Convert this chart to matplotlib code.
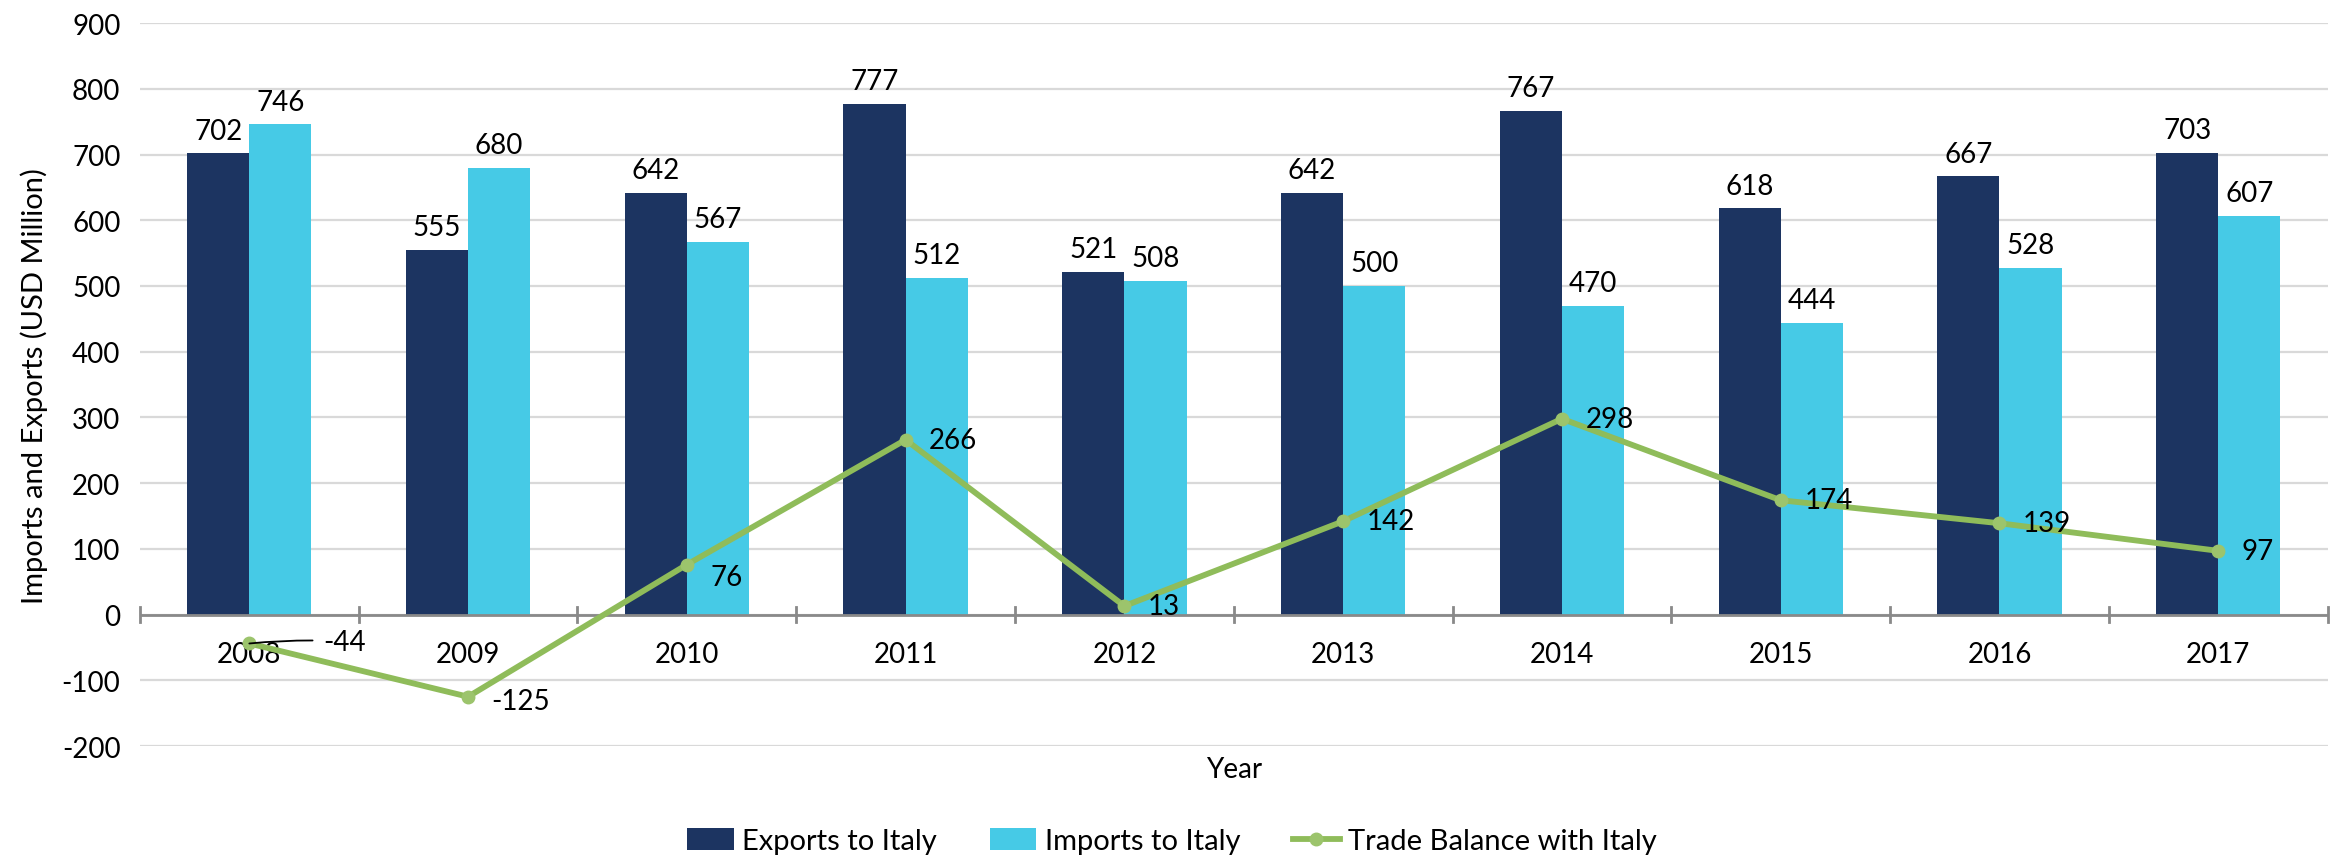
import matplotlib.pyplot as plt
import numpy as np

years = ['2008', '2009', '2010', '2011', '2012', '2013', '2014', '2015', '2016', '2017']
exports = [702, 555, 642, 777, 521, 642, 767, 618, 667, 703]
imports = [746, 680, 567, 512, 508, 500, 470, 444, 528, 607]
balance = [-44, -125, 76, 266, 13, 142, 298, 174, 139, 97]

navy = '#1C3461'
sky = '#46CAE6'
green = '#8FBC5A'

plt.rcParams['font.family'] = ['Lato', 'DejaVu Sans']
plt.rcParams['axes.unicode_minus'] = False

fig = plt.figure(figsize=(23.44, 8.62), dpi=100)
ax = fig.add_axes([0.0597, 0.1334, 0.9333, 0.8386])

x = np.arange(len(years))
w = 0.284
b1 = ax.bar(x - w / 2, exports, w, color=navy, label='Exports to Italy', zorder=2)
b2 = ax.bar(x + w / 2, imports, w, color=sky, label='Imports to Italy', zorder=2)
ln, = ax.plot(x, balance, color=green, lw=4.2, marker='o', ms=9, mfc='#9CC46C', mec='#9CC46C',
              label='Trade Balance with Italy', zorder=4)

# bar labels
for i in range(len(years)):
    ax.annotate(str(exports[i]), (x[i] - w / 2, exports[i]), xytext=(0, 7), textcoords='offset points',
                ha='center', va='bottom', fontsize=20, zorder=5)
    ax.annotate(str(imports[i]), (x[i] + w / 2, imports[i]), xytext=(0, 7), textcoords='offset points',
                ha='center', va='bottom', fontsize=20, zorder=5)

# line labels (first one gets a leader line)
ax.annotate(str(balance[0]), xy=(x[0], balance[0]), xytext=(x[0] + 0.34, balance[0] + 3),
            textcoords='data', ha='left', va='center', fontsize=20, zorder=5,
            arrowprops=dict(arrowstyle='-', color='black', lw=1.3, shrinkA=6, shrinkB=0,
                            connectionstyle='arc3,rad=0.04'))
offsets = {1: -3, 2: -9}
for i in range(1, len(years)):
    ax.annotate(str(balance[i]), (x[i], balance[i]), xytext=(17, offsets.get(i, 0)),
                textcoords='offset points', ha='left', va='center', fontsize=20, zorder=5)

ax.set_xlim(-0.5, len(years) - 0.5)
ax.set_ylim(-200, 900)
ax.set_yticks(range(-200, 901, 100))
ax.tick_params(axis='y', length=0, labelsize=20, pad=14)
ax.yaxis.grid(True, color='#D9D9D9', lw=1.6, zorder=0)
ax.set_axisbelow(True)

for s in ['top', 'right', 'left', 'bottom']:
    ax.spines[s].set_visible(False)
ax.axhline(0, color='#898989', lw=2, zorder=3)

# category ticks on the zero line, x labels below
ax.set_xticks([])
for b in np.arange(-0.5, len(years), 1.0):
    ax.plot([b, b], [-12, 12], color='#898989', lw=2, zorder=3, clip_on=False)
for i, yr in enumerate(years):
    ax.text(x[i], -60, yr, ha='center', va='center', fontsize=20, zorder=3)

ax.set_ylabel('Imports and Exports (USD Million)', fontsize=21, labelpad=10)
fig.text(0.5265, 0.107, 'Year', ha='center', va='center', fontsize=20)

fig.legend([b1, b2, ln], ['Exports to Italy', 'Imports to Italy', 'Trade Balance with Italy'],
           loc='center', bbox_to_anchor=(0.5, 0.023), ncol=3, frameon=False, fontsize=21,
           handlelength=1.6, handleheight=0.8, columnspacing=1.8, handletextpad=0.3)

fig.savefig('out.png', dpi=100)
